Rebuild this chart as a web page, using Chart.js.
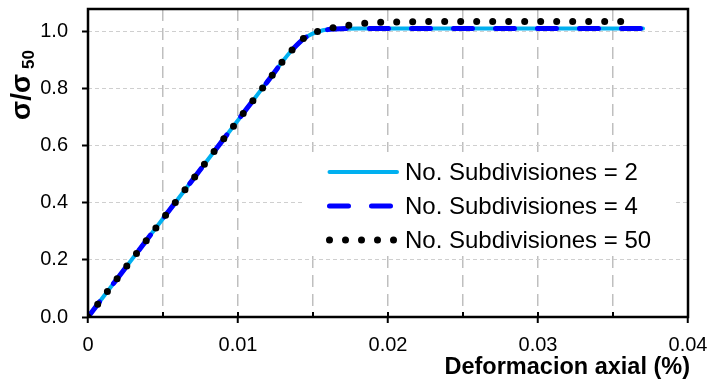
<!DOCTYPE html>
<html>
<head>
<meta charset="utf-8">
<script src="https://cdn.jsdelivr.net/npm/chart.js@4/dist/chart.umd.min.js"></script>
<style>
  body { margin: 0; background: #fff; }
  #wrap { width: 709px; height: 381px; }
</style>
</head>
<body>
<div id="wrap"><canvas id="chart"></canvas></div>
<script>
// valores
const strainX = [0, 0.002, 0.004, 0.006, 0.008, 0.010, 0.012, 0.0135, 0.0145, 0.0155, 0.0165, 0.018, 0.020, 0.025, 0.030, 0.035, 0.037];
const sub2 = [0, 0.138, 0.276, 0.414, 0.552, 0.690, 0.828, 0.930, 0.980, 1.003, 1.010, 1.012, 1.012, 1.012, 1.012, 1.012, 1.012];
const sub4 = [0, 0.138, 0.276, 0.414, 0.552, 0.690, 0.828, 0.930, 0.980, 1.003, 1.010, 1.012, 1.012, 1.012, 1.012, 1.012, 1.012];

const strainX50 = [0, 0.002, 0.004, 0.006, 0.008, 0.010, 0.012, 0.0135, 0.0145, 0.0155, 0.0165, 0.0175, 0.019, 0.021, 0.025, 0.030, 0.035, 0.0365];
const sub50 = [0, 0.138, 0.276, 0.414, 0.552, 0.690, 0.828, 0.930, 0.982, 1.004, 1.016, 1.024, 1.032, 1.035, 1.036, 1.036, 1.036, 1.036];

const seriesNames = ["No. Subdivisiones = 2", "No. Subdivisiones = 4", "No. Subdivisiones = 50"];

const xTickValues = [0, 0.005, 0.01, 0.015, 0.02, 0.025, 0.03, 0.035, 0.04];
const xTickLabels = ["0", "", "0.01", "", "0.02", "", "0.03", "", "0.04"];
const yTickValues = [0, 0.2, 0.4, 0.6, 0.8, 1.0];
const yTickLabels = ["0.0", "0.2", "0.4", "0.6", "0.8", "1.0"];

const FONT = "'Liberation Sans', Arial, sans-serif";

function toPoints(xs, ys) {
  return xs.map((x, i) => ({ x: x, y: ys[i] }));
}

const datasets = [
  {
    label: seriesNames[0],
    data: toPoints(strainX, sub2),
    borderColor: "#00B0F0",
    borderWidth: 4,
    borderCapStyle: "round",
    order: 3
  },
  {
    label: seriesNames[1],
    data: toPoints(strainX, sub4),
    borderColor: "#0000FF",
    borderWidth: 5,
    borderDash: [19, 23],
    borderCapStyle: "round",
    order: 2
  },
  {
    label: seriesNames[2],
    data: toPoints(strainX50, sub50),
    borderColor: "#000000",
    borderWidth: 7,
    borderDash: [0, 16],
    borderCapStyle: "round",
    order: 1
  }
];

// marco del area de trazado y marcas interiores
const framePlugin = {
  id: "frame",
  afterDatasetsDraw(chart) {
    const { ctx, chartArea: a, scales } = chart;
    ctx.save();
    ctx.strokeStyle = "#000";
    ctx.lineWidth = 2;
    xTickValues.forEach(v => {
      const px = scales.x.getPixelForValue(v);
      ctx.beginPath();
      ctx.moveTo(px, a.bottom);
      ctx.lineTo(px, a.bottom - 5);
      ctx.stroke();
    });
    ctx.lineWidth = 2.5;
    ctx.strokeRect(a.left, a.top, a.right - a.left, a.bottom - a.top);
    ctx.restore();
  }
};

// leyenda y titulos de ejes
const legendPlugin = {
  id: "customLegend",
  afterDraw(chart) {
    const { ctx, chartArea: a } = chart;
    ctx.save();
    ctx.fillStyle = "#fff";
    ctx.fillRect(305, 152, 368, 104);

    const rows = [172, 206, 240];
    datasets.forEach((ds, i) => {
      const y = rows[i];
      ctx.beginPath();
      ctx.strokeStyle = ds.borderColor;
      ctx.lineWidth = ds.borderWidth;
      ctx.lineCap = ds.borderCapStyle;
      ctx.setLineDash(ds.borderDash || []);
      ctx.moveTo(329.5, y);
      ctx.lineTo(397, y);
      ctx.stroke();
      ctx.setLineDash([]);
      ctx.fillStyle = "#000";
      ctx.font = "24px " + FONT;
      ctx.textAlign = "left";
      ctx.textBaseline = "middle";
      ctx.fillText(ds.label, 405, y + 1);
    });

    // titulo eje x
    ctx.fillStyle = "#000";
    ctx.font = "bold 23.5px " + FONT;
    ctx.textAlign = "right";
    ctx.textBaseline = "middle";
    ctx.fillText("Deformacion axial (%)", a.right + 2, 368);

    // titulo eje y con subindice
    ctx.translate(30, 120);
    ctx.rotate(-Math.PI / 2);
    ctx.textAlign = "left";
    ctx.textBaseline = "alphabetic";
    ctx.font = "bold 28px " + FONT;
    ctx.fillText("σ/σ", 0, 0);
    const w = ctx.measureText("σ/σ").width;
    ctx.font = "bold 17px " + FONT;
    ctx.fillText("50", w + 5, 4);
    ctx.restore();
  }
};

new Chart(document.getElementById("chart"), {
  type: "line",
  data: { datasets: datasets },
  options: {
    responsive: true,
    maintainAspectRatio: false,
    animation: false,
    layout: { padding: { top: 9, right: 21, left: 0, bottom: 0 } },
    elements: {
      point: { radius: 0, hoverRadius: 0 },
      line: { cubicInterpolationMode: "monotone" }
    },
    plugins: {
      legend: { display: false },
      tooltip: { enabled: false }
    },
    scales: {
      x: {
        type: "linear",
        min: 0,
        max: 0.04,
        afterBuildTicks: s => { s.ticks = xTickValues.map(v => ({ value: v })); },
        afterFit: s => { s.height = 64; s.paddingLeft = 0; s.paddingRight = 0; },
        ticks: {
          autoSkip: false,
          maxRotation: 0,
          padding: 10,
          color: "#000",
          font: { family: FONT, size: 20 },
          callback: (v, i) => xTickLabels[i]
        },
        grid: {
          color: "#bfbfbf",
          lineWidth: 1.5,
          tickLength: 6,
          tickWidth: 2,
          tickColor: c => (c.index % 2 === 0 ? "#000" : "rgba(0,0,0,0)")
        },
        border: { display: false, dash: [12, 7] }
      },
      y: {
        type: "linear",
        min: 0,
        max: 1.08,
        afterBuildTicks: s => { s.ticks = yTickValues.map(v => ({ value: v })); },
        afterFit: s => { s.width = 88; s.paddingTop = 0; s.paddingBottom = 0; },
        ticks: {
          padding: 14,
          color: "#000",
          font: { family: FONT, size: 20 },
          callback: (v, i) => yTickLabels[i]
        },
        grid: {
          color: "#cfcfcf",
          lineWidth: 1,
          tickLength: 6,
          tickWidth: 2,
          tickColor: "#000"
        },
        border: { display: false, dash: [4, 3] }
      }
    }
  },
  plugins: [framePlugin, legendPlugin]
});
</script>
</body>
</html>
